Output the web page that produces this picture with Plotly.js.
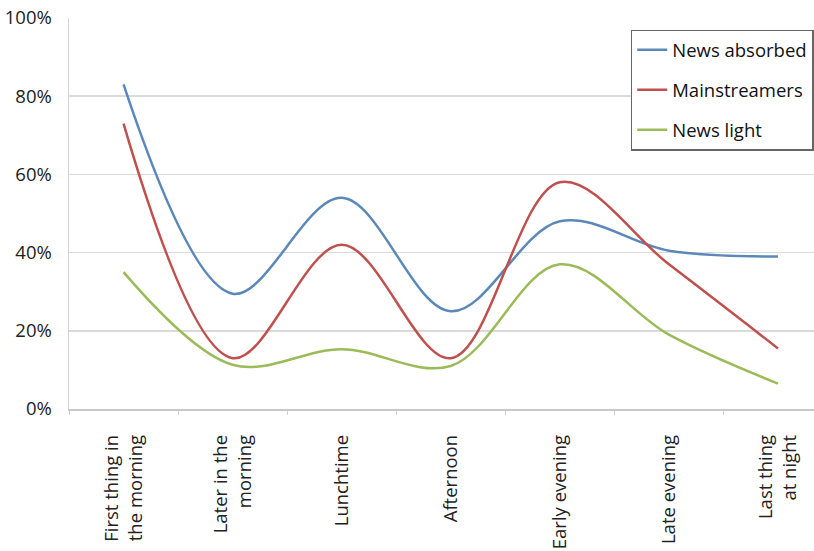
<!DOCTYPE html>
<html>
<head>
<meta charset="utf-8">
<script src="https://cdn.plot.ly/plotly-3.0.1.min.js"></script>
<style>html,body{margin:0;padding:0;background:#fff;}#chart{width:814px;height:551px;}</style>
</head>
<body>
<div id="chart"></div>
<script>
var categories = ["First thing in<br>the morning", "Later in the<br>morning", "Lunchtime", "Afternoon", "Early evening", "Late evening", "Last thing<br>at night"];
var newsAbsorbed = [0.83, 0.295, 0.54, 0.25, 0.48, 0.405, 0.39];
var mainstreamers = [0.73, 0.13, 0.42, 0.13, 0.58, 0.37, 0.155];
var newsLight = [0.35, 0.113, 0.153, 0.11, 0.37, 0.19, 0.065];
var seriesNames = ["News absorbed", "Mainstreamers", "News light"];
var seriesColors = ["#5b88b8", "#c0504d", "#9bbb59"];
var seriesValues = [newsAbsorbed, mainstreamers, newsLight];

var traces = seriesValues.map(function (vals, i) {
  return {
    x: categories,
    y: vals,
    name: seriesNames[i],
    type: "scatter",
    mode: "lines",
    line: {color: seriesColors[i], width: 2.5, shape: "spline", smoothing: 1},
    legendgroup: "g" + i
  };
});

var layout = {
  width: 814, height: 551,
  margin: {l: 69, r: 0, t: 18, b: 142},
  paper_bgcolor: "#fff", plot_bgcolor: "#fff",
  font: {family: "Open Sans, sans-serif", color: "#222"},
  showlegend: true,
  legend: {
    x: 0.754, y: 0.97, xanchor: "left", yanchor: "top",
    bgcolor: "#fff", bordercolor: "#666", borderwidth: 1.5,
    font: {size: 18.5, color: "#111"},
    traceorder: "grouped", tracegroupgap: 13
  },
  xaxis: {
    type: "category",
    range: [-0.5, 6.33],
    showgrid: false,
    showline: true, linecolor: "#c8c8c8", linewidth: 1.5,
    ticks: "outside", tickson: "boundaries", ticklen: 4, tickcolor: "#d0d0d0",
    tickangle: -90,
    tickfont: {size: 18.5, color: "#222"},
    ticklabelstandoff: 17
  },
  yaxis: {
    range: [0, 1],
    tickvals: [0, 0.2, 0.4, 0.6, 0.8, 1],
    tickformat: ".0%",
    showgrid: true, gridcolor: "#dadada", gridwidth: 1.5,
    showline: true, linecolor: "#d5d5d5", linewidth: 1.5,
    zeroline: false,
    ticks: "",
    tickfont: {size: 18.5, color: "#222"},
    ticklabelstandoff: 12
  }
};

Plotly.newPlot("chart", traces, layout, {displayModeBar: false, staticPlot: true});
</script>
</body>
</html>
